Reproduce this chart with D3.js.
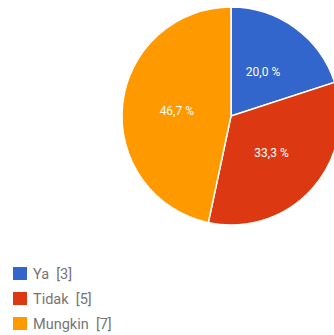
<!DOCTYPE html>
<html>
<head>
<meta charset="utf-8">
<script src="https://cdn.jsdelivr.net/npm/d3@7"></script>
<style>
  body { margin: 0; background: #fff; }
  svg { display: block; }
</style>
</head>
<body>
<svg id="chart" width="334" height="335"></svg>
<script>
var labels = ["Ya", "Tidak", "Mungkin"],
	counts = [3, 5, 7],
	colors = ["#3366cc", "#dc3912", "#ff9900"];

var cx = 231, cy = 116, radius = 109;

var svg = d3.select("#chart");
var total = d3.sum(counts);

var pie = d3.pie().sort(null).value(function(d){return d;});
var arc = d3.arc().innerRadius(0).outerRadius(radius);
var labelArc = d3.arc().innerRadius(radius*0.5).outerRadius(radius*0.5);

var g = svg.append("g").attr("transform", "translate(" + cx + "," + cy + ")");

var slices = g.selectAll("g.slice").data(pie(counts)).enter().append("g").attr("class", "slice");
slices.append("path")
	.attr("d", arc)
	.attr("fill", function(d, i){return colors[i];})
	.attr("stroke", "#fff")
	.attr("stroke-width", 1.5);

// percent labels, comma as decimal mark
slices.append("text")
	.attr("transform", function(d){return "translate(" + labelArc.centroid(d) + ")";})
	.attr("text-anchor", "middle")
	.attr("dy", "0.35em")
	.attr("fill", "#fff")
	.attr("font-family", "Roboto, Arial, sans-serif")
	.attr("font-size", 12)
	.text(function(d){return (d.value/total*100).toFixed(1).replace(".", ",") + " %";});

// legend
var legend = svg.selectAll("g.legend").data(labels).enter().append("g")
	.attr("class", "legend")
	.attr("transform", function(d, i){return "translate(13," + (267 + i*25) + ")";});
legend.append("rect")
	.attr("width", 14).attr("height", 13)
	.attr("fill", function(d, i){return colors[i];});
legend.append("text")
	.attr("x", 20).attr("y", 7)
	.attr("dy", "0.35em")
	.attr("fill", "#757575")
	.attr("font-family", "Roboto, Arial, sans-serif")
	.attr("font-size", 14.5)
	.attr("xml:space", "preserve")
	.text(function(d, i){return d + "  [" + counts[i] + "]";});
</script>
</body>
</html>
